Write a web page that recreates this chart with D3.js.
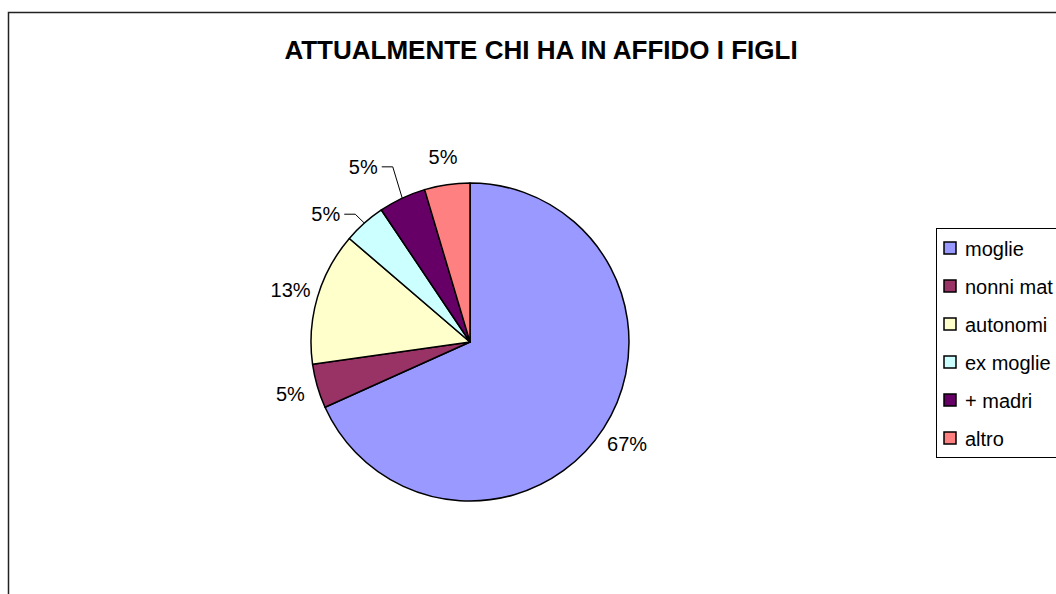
<!DOCTYPE html>
<html>
<head>
<meta charset="utf-8">
<script src="https://cdn.jsdelivr.net/npm/d3@7/dist/d3.min.js"></script>
<style>
  body { margin: 0; background: #fff; }
  text { font-family: Arial, "Liberation Sans", sans-serif; }
</style>
</head>
<body>
<div id="chart"></div>
<script>
// data (slice shares) and the printed labels
var categories = ["moglie", "nonni mat", "autonomi", "ex moglie", "+ madri", "altro"];
var values = [68.2, 4.5, 13.5, 4.3, 4.8, 4.6];
var labels = ["67%", "5%", "13%", "5%", "5%", "5%"];
var colors = ["#9999FF", "#993366", "#FFFFCC", "#CCFFFF", "#660066", "#FF8080"];

var width = 1056, height = 594;
var cx = 470, cy = 342, radius = 159;

var svg = d3.select("#chart")
  .append("svg")
  .attr("width", width)
  .attr("height", height);

// chart area border (runs off the right and bottom edges)
svg.append("rect")
  .attr("x", 8.5).attr("y", 12.5)
  .attr("width", 1200).attr("height", 800)
  .style("fill", "#fff")
  .style("stroke", "#222")
  .style("stroke-width", 1.5);

svg.append("text")
  .attr("x", 541).attr("y", 59)
  .attr("text-anchor", "middle")
  .style("font-size", "26px")
  .style("font-weight", "bold")
  .text("ATTUALMENTE CHI HA IN AFFIDO I FIGLI");

var pie = d3.pie().sort(null).value(function(d) { return d; });
var arcs = pie(values);
var arc = d3.arc().innerRadius(0).outerRadius(radius);

var g = svg.append("g").attr("transform", "translate(" + cx + "," + cy + ")");

g.selectAll("path.slice")
  .data(arcs)
  .enter().append("path")
    .attr("class", "slice")
    .attr("d", arc)
    .style("fill", function(d, i) { return colors[i]; })
    .style("stroke", "#000")
    .style("stroke-width", 1.5)
    .style("stroke-linejoin", "round");

// labels sit outside the pie; two small ones get pushed aside like Excel does
var labelR = radius + 28;
var labelShift = { "ex moglie": [-20, 12], "+ madri": [-27, -6] };

function polar(a, r) { return [Math.sin(a) * r, -Math.cos(a) * r]; }

arcs.forEach(function(d, i) {
  var mid = (d.startAngle + d.endAngle) / 2;
  var p = polar(mid, labelR);
  var shift = labelShift[categories[i]];
  if (shift) { p[0] += shift[0]; p[1] += shift[1]; }

  var t = g.append("text")
    .attr("x", p[0]).attr("y", p[1])
    .attr("text-anchor", "middle")
    .attr("dominant-baseline", "central")
    .style("font-size", "20px")
    .text(labels[i]);

  if (shift) {
    var right = p[0] + t.node().getComputedTextLength() / 2;
    var edge = polar(mid, radius);
    g.append("polyline")
      .attr("points", [edge, [right + 15, p[1]], [right + 4, p[1]]].map(function(q) { return q.join(","); }).join(" "))
      .style("fill", "none")
      .style("stroke", "#000")
      .style("stroke-width", 1);
  }
});

// legend
var legend = svg.append("g").attr("transform", "translate(936,228)");
legend.append("rect")
  .attr("x", 0.5).attr("y", 0.5)
  .attr("width", 200).attr("height", 229)
  .style("fill", "#fff")
  .style("stroke", "#000")
  .style("stroke-width", 1);

var item = legend.selectAll("g.item")
  .data(categories)
  .enter().append("g")
    .attr("class", "item")
    .attr("transform", function(d, i) { return "translate(0," + (20 + i * 38) + ")"; });

item.append("rect")
  .attr("x", 8).attr("y", -6)
  .attr("width", 12).attr("height", 12)
  .style("fill", function(d, i) { return colors[i]; })
  .style("stroke", "#000")
  .style("stroke-width", 1.5);

item.append("text")
  .attr("x", 29).attr("y", 1)
  .attr("dominant-baseline", "central")
  .style("font-size", "20px")
  .text(function(d) { return d; });
</script>
</body>
</html>
